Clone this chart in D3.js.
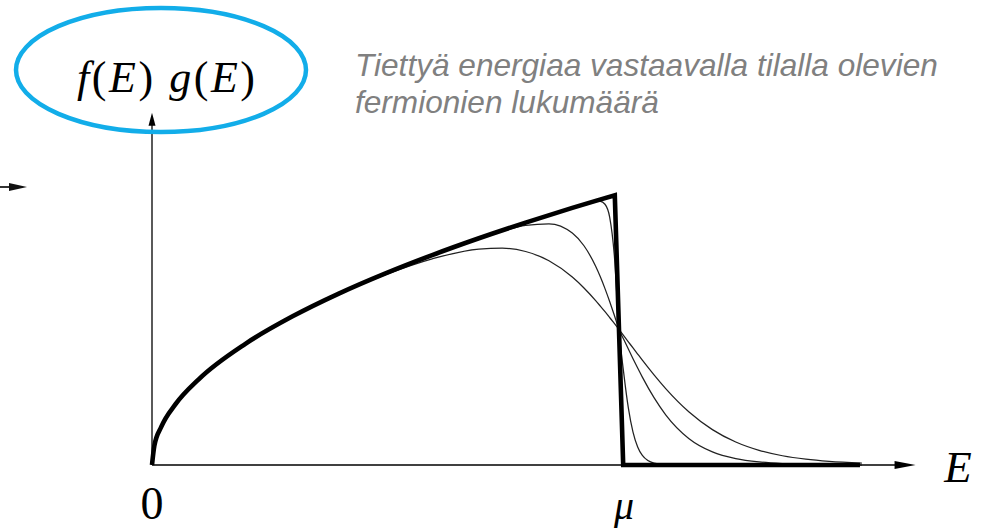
<!DOCTYPE html>
<html>
<head>
<meta charset="utf-8">
<script src="https://cdn.jsdelivr.net/npm/d3@7"></script>
<style>
  html, body { margin: 0; padding: 0; background: #fff; }
  svg { display: block; }
</style>
</head>
<body>
<svg id="chart" width="990" height="529"></svg>
<script>
// Energies are in units of the chemical potential μ; heights are f(E)·g(E) relative to g(μ).

// Shared energy grid for the finite-temperature curves
const energies = [0, 0.005, 0.02, 0.05, 0.1, 0.2, 0.3, 0.4, 0.5, 0.6, 0.7, 0.75, 0.8, 0.85,
  0.9, 0.925, 0.95, 0.96, 0.97, 0.98, 0.99, 1.0, 1.01, 1.02, 1.03, 1.04, 1.05, 1.075, 1.1,
  1.15, 1.2, 1.25, 1.3, 1.35, 1.4, 1.45, 1.52];

// Warmest curve
const warmValues = [0, 0.0707, 0.1414, 0.2236, 0.3162, 0.4470, 0.5472, 0.6309, 0.7024, 0.7607,
  0.7970, 0.8003, 0.7878, 0.7538, 0.6936, 0.6533, 0.6067, 0.5864, 0.5657, 0.5442, 0.5224, 0.5000,
  0.4774, 0.4547, 0.4319, 0.4093, 0.3868, 0.3326, 0.2820, 0.1956, 0.1306, 0.0848, 0.0541, 0.0341,
  0.0213, 0.0132, 0.0068];

// Intermediate curve
const mildValues = [0, 0.0707, 0.1414, 0.2236, 0.3162, 0.4472, 0.5477, 0.6325, 0.7071, 0.7745,
  0.8356, 0.8627, 0.8840, 0.8902, 0.8559, 0.8090, 0.7333, 0.6944, 0.6508, 0.6031, 0.5525, 0.5000,
  0.4639, 0.4279, 0.3924, 0.3577, 0.3244, 0.2486, 0.1853, 0.0971, 0.0483, 0.0234, 0.0112, 0.0053,
  0.0025, 0.0012, 0.0004];

// Coolest smooth curve
const coolValues = [0, 0.0707, 0.1414, 0.2236, 0.3162, 0.4472, 0.5477, 0.6325, 0.7071, 0.7746,
  0.8367, 0.8660, 0.8944, 0.9220, 0.9487, 0.9617, 0.9728, 0.9732, 0.9622, 0.9148, 0.7734, 0.5000,
  0.3409, 0.2107, 0.1210, 0.0663, 0.0353, 0.0069, 0.0013, 0.0001, 0, 0, 0, 0, 0, 0, 0];

// Zero-temperature curve: √E rise up to μ, then a sharp step down
const riseEnergies = [0, 0.005, 0.02, 0.05, 0.1, 0.2, 0.3, 0.4, 0.5, 0.6, 0.7, 0.8, 0.9, 0.95, 0.991];
const riseValues = [0, 0.0707, 0.1414, 0.2236, 0.3162, 0.4472, 0.5477, 0.6325, 0.7071, 0.7746,
  0.8367, 0.8944, 0.9487, 0.9747, 0.9955];
const stepEnergies = [1.009, 1.516];
const stepValues = [0, 0];

// Axis extents and tick labels
const xAxisEnd = 1.635;
const yAxisEnd = 1.30;
const xTickValues = [0, 1];
const xTickLabels = ["0", "μ"];
const axisTitleX = "E";
const noteLines = ["Tiettyä energiaa vastaavalla tilalla olevien", "fermionien lukumäärä"];

const svg = d3.select("#chart");

const x = d3.scaleLinear().domain([0, 1]).range([152, 619]);
const y = d3.scaleLinear().domain([0, 1]).range([465, 194]);

const serif = "'Liberation Serif', 'DejaVu Serif', serif";

// ---- axes ----
const axes = svg.append("g").attr("stroke", "#000").attr("stroke-width", 1.3).attr("fill", "none");
axes.append("line")
  .attr("x1", x(0)).attr("y1", y(0))
  .attr("x2", x(xAxisEnd) - 18).attr("y2", y(0));
axes.append("line")
  .attr("x1", x(0)).attr("y1", y(0))
  .attr("x2", x(0)).attr("y2", y(yAxisEnd) + 10);

// arrow heads
svg.append("path")
  .attr("d", `M${x(xAxisEnd)},${y(0)} L${x(xAxisEnd) - 21},${y(0) - 4} L${x(xAxisEnd) - 21},${y(0) + 4} Z`)
  .attr("fill", "#000");
svg.append("path")
  .attr("d", `M${x(0)},${y(yAxisEnd)} L${x(0) - 3.5},${y(yAxisEnd) + 13} L${x(0) + 3.5},${y(yAxisEnd) + 13} Z`)
  .attr("fill", "#000");

// ---- curves ----
const pts = (es, vs) => es.map((e, i) => [e, vs[i]]);
const smooth = d3.line().x(d => x(d[0])).y(d => y(d[1])).curve(d3.curveMonotoneX);
const straight = d3.line().x(d => x(d[0])).y(d => y(d[1]));

[warmValues, mildValues, coolValues].forEach(vals => {
  svg.append("path")
    .attr("d", smooth(pts(energies, vals)))
    .attr("fill", "none")
    .attr("stroke", "#222")
    .attr("stroke-width", 1.25);
});

const coldPath = smooth(pts(riseEnergies, riseValues)) +
  "L" + straight(pts(stepEnergies, stepValues)).slice(1);
svg.append("path")
  .attr("d", coldPath)
  .attr("fill", "none")
  .attr("stroke", "#000")
  .attr("stroke-width", 4.6)
  .attr("stroke-linejoin", "miter");

// ---- tick labels ----
svg.selectAll("text.tick")
  .data(xTickValues)
  .join("text")
  .attr("class", "tick")
  .attr("x", (d, i) => x(d) + (i === 1 ? 5 : 0))
  .attr("y", 519)
  .attr("text-anchor", "middle")
  .attr("font-family", serif)
  .attr("font-size", (d, i) => i === 1 ? 40 : 46)
  .attr("font-style", (d, i) => i === 1 ? "italic" : "normal")
  .attr("fill", "#000")
  .text((d, i) => xTickLabels[i]);

svg.append("text")
  .attr("x", 958).attr("y", 482)
  .attr("text-anchor", "middle")
  .attr("font-family", serif)
  .attr("font-size", 45)
  .attr("font-style", "italic")
  .attr("fill", "#000")
  .text(axisTitleX);

// ---- y-axis title inside the highlight ellipse ----
const yTitle = svg.append("text")
  .attr("x", 166).attr("y", 92)
  .attr("text-anchor", "middle")
  .attr("font-family", serif)
  .attr("font-size", 44)
  .attr("fill", "#000")
  .attr("textLength", 178)
  .attr("lengthAdjust", "spacing");
[["f", true], ["(", false], ["E", true], [")", false], [" ", false],
 ["g", true], ["(", false], ["E", true], [")", false]].forEach(([t, it]) => {
  yTitle.append("tspan").attr("font-style", it ? "italic" : "normal").text(t);
});

svg.append("ellipse")
  .attr("cx", 161).attr("cy", 70)
  .attr("rx", 145).attr("ry", 62)
  .attr("fill", "none")
  .attr("stroke", "#12ade9")
  .attr("stroke-width", 4.5);

// ---- pointer on the left edge ----
svg.append("line")
  .attr("x1", 0).attr("y1", 187).attr("x2", 14).attr("y2", 187)
  .attr("stroke", "#333").attr("stroke-width", 2);
svg.append("path")
  .attr("d", "M27,187 L9,183 L9,191 Z")
  .attr("fill", "#111");

// ---- explanatory note ----
svg.append("text")
  .attr("font-family", "'Liberation Sans', Arial, sans-serif")
  .attr("font-style", "italic")
  .attr("font-size", 31.6)
  .attr("fill", "#808080")
  .selectAll("tspan")
  .data(noteLines)
  .join("tspan")
  .attr("x", 355)
  .attr("y", (d, i) => 76 + i * 37)
  .text(d => d);
</script>
</body>
</html>
